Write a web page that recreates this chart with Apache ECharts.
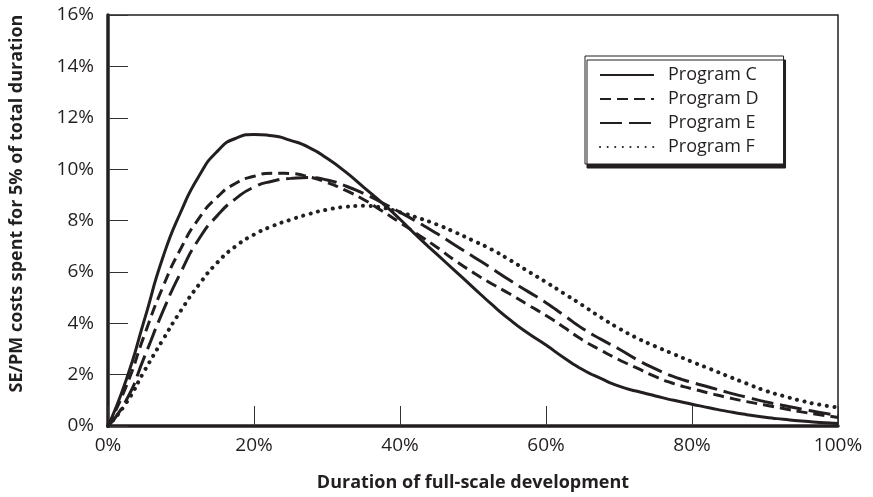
<!DOCTYPE html>
<html>
<head>
<meta charset="utf-8">
<script src="https://cdn.jsdelivr.net/npm/echarts@6/dist/echarts.min.js"></script>
<style>
  html, body { margin: 0; padding: 0; background: #fff; }
  #chart { width: 873px; height: 497px; }
</style>
</head>
<body>
<div id="chart"></div>
<script>
// Share of SE/PM cost spent in each 5% slice of the program, by point in development
const xTicks = [0, 20, 40, 60, 80, 100];
const yTicks = [0, 2, 4, 6, 8, 10, 12, 14, 16];

// Points along development (% of duration), every 2.5%
const durationPct = [0, 2.5, 5, 7.5, 10, 12.5, 15, 17.5, 20, 22.5, 25, 27.5, 30, 32.5, 35, 37.5,
                     40, 42.5, 45, 47.5, 50, 52.5, 55, 57.5, 60, 62.5, 65, 67.5, 70, 72.5, 75,
                     77.5, 80, 82.5, 85, 87.5, 90, 92.5, 95, 97.5, 100];

const programC = [0, 1.8, 4.15, 6.55, 8.35, 9.75, 10.7, 11.2, 11.35, 11.3, 11.12, 10.85, 10.42,
                  9.9, 9.3, 8.7, 8.05, 7.35, 6.7, 6.05, 5.4, 4.75, 4.15, 3.62, 3.15, 2.65, 2.2,
                  1.85, 1.55, 1.35, 1.17, 1.0, 0.85, 0.7, 0.56, 0.44, 0.34, 0.26, 0.19, 0.14, 0.1];
const programD = [0, 1.55, 3.55, 5.4, 6.92, 8.1, 8.92, 9.45, 9.72, 9.84, 9.83, 9.7, 9.48,
                  9.18, 8.82, 8.38, 7.92, 7.45, 6.97, 6.45, 5.98, 5.55, 5.15, 4.72, 4.3, 3.83,
                  3.35, 2.95, 2.58, 2.25, 1.92, 1.65, 1.45, 1.27, 1.1, 0.95, 0.82, 0.68, 0.55,
                  0.44, 0.33];
const programE = [0, 1.0, 2.7, 4.45, 6.0, 7.3, 8.2, 8.85, 9.3, 9.53, 9.64, 9.67, 9.58,
                  9.35, 9.05, 8.7, 8.32, 7.92, 7.5, 7.05, 6.6, 6.15, 5.68, 5.24, 4.8, 4.3, 3.8,
                  3.38, 3.0, 2.58, 2.22, 1.92, 1.7, 1.5, 1.3, 1.12, 0.95, 0.8, 0.66, 0.53, 0.4];
const programF = [0, 0.9, 2.15, 3.35, 4.5, 5.52, 6.37, 7.0, 7.45, 7.78, 8.03, 8.25, 8.42,
                  8.53, 8.57, 8.5, 8.32, 8.1, 7.85, 7.55, 7.22, 6.88, 6.47, 6.03, 5.6, 5.15,
                  4.7, 4.23, 3.8, 3.42, 3.1, 2.8, 2.5, 2.22, 1.93, 1.65, 1.38, 1.17, 0.98, 0.83,
                  0.72];

const seriesNames = ['Program C', 'Program D', 'Program E', 'Program F'];
const seriesValues = [programC, programD, programE, programF];

const INK = '#231f20';
const FONT = '"Open Sans", "Noto Sans", sans-serif';

// Stroke pattern for each program line
const strokes = [
  { type: 'solid', width: 3, cap: 'butt' },
  { type: [11, 6], width: 3, cap: 'butt' },
  { type: [22, 7], width: 3, cap: 'butt' },
  { type: [0.1, 7.5], width: 4, cap: 'round' }
];

const chart = echarts.init(document.getElementById('chart'), null, { renderer: 'canvas' });

chart.setOption({
  animation: false,
  backgroundColor: '#fff',
  grid: {
    left: 107, right: 35, top: 15, bottom: 70,
    show: true, borderColor: INK, borderWidth: 1.5, backgroundColor: 'transparent'
  },
  legend: {
    orient: 'vertical',
    left: 585, top: 56,
    width: 200,
    padding: [10, 25, 8, 14],
    itemWidth: 54, itemHeight: 14, itemGap: 6,
    backgroundColor: '#fff',
    borderColor: INK, borderWidth: 1,
    shadowColor: INK, shadowOffsetX: 2, shadowOffsetY: 4, shadowBlur: 0,
    itemStyle: { opacity: 0 },
    textStyle: { fontFamily: FONT, fontSize: 18, color: INK, padding: [0, 0, 0, 9] },
    data: seriesNames
  },
  xAxis: {
    type: 'value', min: xTicks[0], max: xTicks[xTicks.length - 1], interval: 20,
    name: 'Duration of full-scale development',
    nameLocation: 'middle', nameGap: 48,
    nameTextStyle: { fontFamily: FONT, fontSize: 18, fontWeight: 'bold', color: INK },
    axisLine: { show: true, onZero: false, lineStyle: { color: INK, width: 3.5 } },
    axisTick: { show: true, inside: true, length: 20, lineStyle: { color: '#333', width: 1 } },
    axisLabel: { formatter: '{value}%', margin: 10, fontFamily: FONT, fontSize: 19, color: INK },
    splitLine: { show: false }
  },
  yAxis: {
    type: 'value', min: yTicks[0], max: yTicks[yTicks.length - 1], interval: 2,
    name: 'SE/PM costs spent for 5% of total duration',
    nameLocation: 'middle', nameGap: 82,
    nameTextStyle: { fontFamily: FONT, fontSize: 18, fontWeight: 'bold', color: INK, padding: [0, 0, 0, 34] },
    axisLine: { show: true, onZero: false, lineStyle: { color: INK, width: 3.5 } },
    axisTick: { show: true, inside: true, length: 20, lineStyle: { color: '#333', width: 1 } },
    axisLabel: { formatter: '{value}%', margin: 14, fontFamily: FONT, fontSize: 19, color: INK },
    splitLine: { show: false }
  },
  series: seriesNames.map((name, i) => ({
    name,
    type: 'line',
    data: durationPct.map((x, j) => [x, seriesValues[i][j]]),
    smooth: 0.6,
    showSymbol: false,
    symbol: 'none',
    z: 3,
    color: INK,
    lineStyle: {
      color: INK,
      width: strokes[i].width,
      type: strokes[i].type,
      cap: strokes[i].cap
    }
  }))
});
</script>
</body>
</html>
